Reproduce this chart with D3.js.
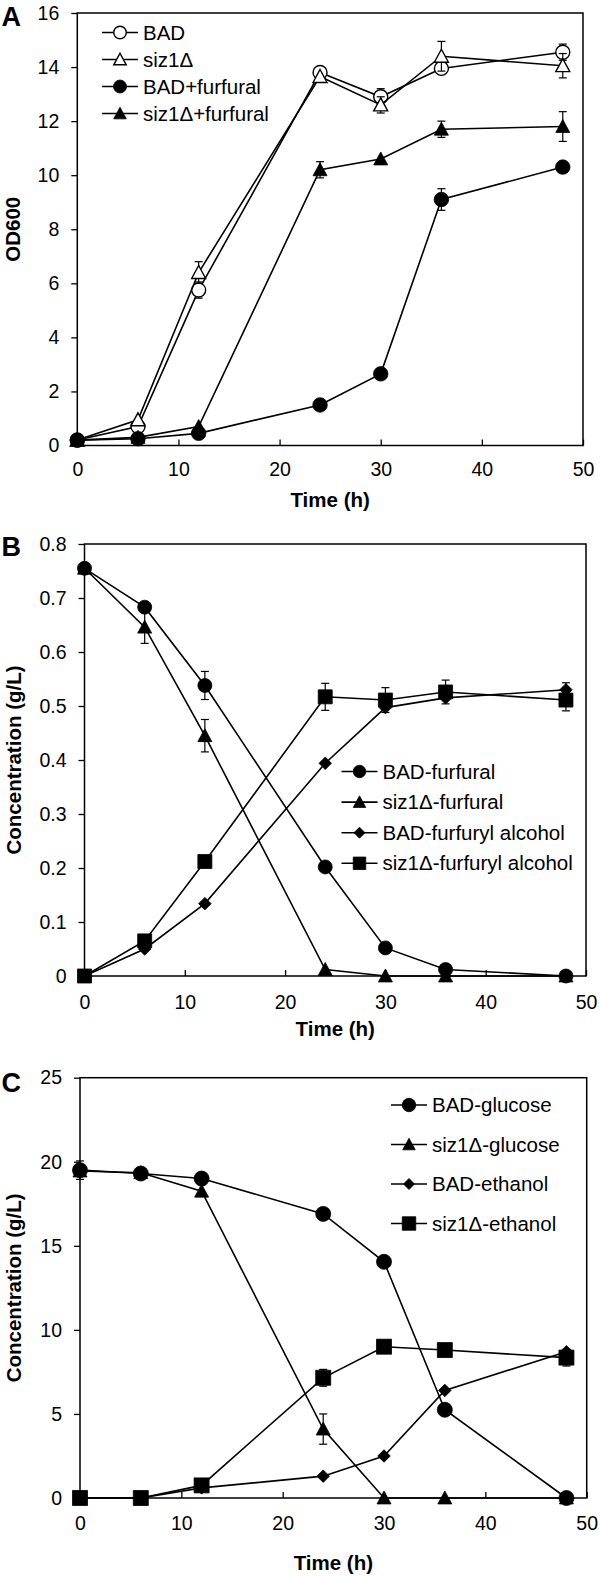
<!DOCTYPE html>
<html>
<head>
<meta charset="utf-8">
<script src="https://cdn.jsdelivr.net/npm/d3@7"></script>
<style>
  body { margin: 0; background: #fff; }
  svg text { font-family: "Liberation Sans", Arial, sans-serif; fill: #000; }
</style>
</head>
<body>
<svg id="chart" width="600" height="1576"></svg>
<script>
const time = [0, 6, 12, 24, 30, 36, 48];
const xTicks = [0, 10, 20, 30, 40, 50];

// A - growth (OD600)
const odBAD = [0.2, 0.7, 5.75, 13.8, 12.9, 13.95, 14.55];
const odBADErr = [0, 0, 0.3, 0, 0.3, 0, 0.3];
const odSiz1 = [0.2, 0.95, 6.4, 13.65, 12.6, 14.4, 14.05];
const odSiz1Err = [0, 0, 0.4, 0, 0.3, 0.55, 0.45];
const odBADFurfural = [0.2, 0.25, 0.45, 1.5, 2.65, 9.1, 10.3];
const odBADFurfuralErr = [0, 0, 0, 0, 0, 0.4, 0];
const odSiz1Furfural = [0.2, 0.3, 0.7, 10.2, 10.6, 11.7, 11.8];
const odSiz1FurfuralErr = [0, 0, 0, 0.3, 0, 0.3, 0.55];
const odTicks = [0, 2, 4, 6, 8, 10, 12, 14, 16];

// B - furfural / furfuryl alcohol (g/L)
const furBAD = [0.755, 0.683, 0.538, 0.202, 0.052, 0.012, 0];
const furBADErr = [0, 0, 0.026, 0, 0, 0, 0];
const furSiz1 = [0.755, 0.646, 0.445, 0.012, 0, 0, 0];
const furSiz1Err = [0, 0.03, 0.03, 0, 0, 0, 0];
const alcBAD = [0, 0.05, 0.134, 0.394, 0.497, 0.515, 0.53];
const alcBADErr = [0, 0, 0, 0, 0, 0, 0.013];
const alcSiz1 = [0, 0.065, 0.212, 0.517, 0.511, 0.526, 0.511];
const alcSiz1Err = [0, 0, 0, 0.025, 0.023, 0.022, 0.02];
const furTicks = [0, 0.1, 0.2, 0.3, 0.4, 0.5, 0.6, 0.7, 0.8];

// C - glucose / ethanol (g/L)
const gluBAD = [19.5, 19.3, 19.0, 16.9, 14.05, 5.25, 0];
const gluBADErr = [0.55, 0, 0, 0, 0, 0, 0];
const gluSiz1 = [19.45, 19.35, 18.25, 4.1, 0, 0, 0];
const gluSiz1Err = [0, 0, 0, 0.9, 0, 0, 0];
const ethBAD = [0, 0, 0.6, 1.3, 2.5, 6.4, 8.7];
const ethBADErr = [0, 0, 0, 0, 0, 0, 0];
const ethSiz1 = [0, 0, 0.75, 7.15, 9.0, 8.8, 8.35];
const ethSiz1Err = [0, 0, 0, 0.5, 0, 0, 0.5];
const gluTicks = [0, 5, 10, 15, 20, 25];

const svg = d3.select("#chart");

function markerPath(type, s) {
  const h = s / 2;
  const p = d3.path();
  if (type === "circle") { p.arc(0, 0, h, 0, 2 * Math.PI); }
  else if (type === "triangle") { p.moveTo(0, -h); p.lineTo(h, h * 0.85); p.lineTo(-h, h * 0.85); }
  else if (type === "square") { p.rect(-h, -h, s, s); }
  else if (type === "diamond") { p.moveTo(0, -h); p.lineTo(h, 0); p.lineTo(0, h); p.lineTo(-h, 0); }
  p.closePath();
  return p.toString();
}

function drawPanel(cfg) {
  const x = d3.scaleLinear().domain([0, 50]).range([cfg.left, cfg.right]);
  const y = d3.scaleLinear().domain([0, cfg.yMax]).range([cfg.bottom, cfg.top]);
  const g = svg.append("g");

  // y axis, ticks outward
  g.append("g")
    .attr("transform", `translate(${cfg.left},0)`)
    .call(d3.axisLeft(y)
      .tickValues(cfg.yTicks)
      .tickSize(6)
      .tickSizeOuter(0)
      .tickPadding(12)
      .tickFormat(cfg.yFormat))
    .call(a => a.select(".domain").remove())
    .call(a => a.selectAll("line").attr("stroke", "#000").attr("stroke-width", 1.3))
    .call(a => a.selectAll("text").attr("font-size", 19.5).attr("font-family", null));

  // x axis, ticks inward
  g.append("g")
    .attr("transform", `translate(0,${cfg.bottom})`)
    .call(d3.axisBottom(x)
      .tickValues(xTicks)
      .tickSizeInner(-6)
      .tickSizeOuter(0)
      .tickPadding(cfg.xPad))
    .call(a => a.select(".domain").remove())
    .call(a => a.selectAll("line").attr("stroke", "#000").attr("stroke-width", 1.3))
    .call(a => a.selectAll("text").attr("font-size", 19.5).attr("font-family", null));

  // plot box
  g.append("rect")
    .attr("x", cfg.left).attr("y", cfg.top)
    .attr("width", cfg.right - cfg.left).attr("height", cfg.bottom - cfg.top)
    .attr("fill", "none").attr("stroke", "#000").attr("stroke-width", 1.5);

  const line = d3.line().x((d, i) => x(time[i])).y(d => y(d));

  cfg.series.forEach(s => {
    const pts = s.values.map((v, i) => ({ t: time[i], v: v, e: s.err[i] }));
    const eb = pts.filter(d => d.e > 0);

    // error bars
    const bars = g.append("g").attr("stroke", "#000").attr("stroke-width", 1.2);
    bars.selectAll("line.v").data(eb).enter().append("line")
      .attr("x1", d => x(d.t)).attr("x2", d => x(d.t))
      .attr("y1", d => y(d.v - d.e)).attr("y2", d => y(d.v + d.e));
    bars.selectAll("line.top").data(eb).enter().append("line")
      .attr("x1", d => x(d.t) - 4).attr("x2", d => x(d.t) + 4)
      .attr("y1", d => y(d.v + d.e)).attr("y2", d => y(d.v + d.e));
    bars.selectAll("line.bot").data(eb).enter().append("line")
      .attr("x1", d => x(d.t) - 4).attr("x2", d => x(d.t) + 4)
      .attr("y1", d => y(d.v - d.e)).attr("y2", d => y(d.v - d.e));

    g.append("path")
      .datum(s.values)
      .attr("fill", "none")
      .attr("stroke", "#000")
      .attr("stroke-width", 1.6)
      .attr("d", line);

    g.selectAll(null)
      .data(pts)
      .enter()
      .append("path")
      .attr("transform", d => `translate(${x(d.t)},${y(d.v)})`)
      .attr("d", markerPath(s.marker, s.size))
      .attr("fill", s.open ? "#fff" : "#000")
      .attr("stroke", "#000")
      .attr("stroke-width", s.open ? 1.4 : 0.8);
  });

  // legend
  const lg = g.append("g");
  cfg.series.forEach((s, i) => {
    const ly = cfg.legend.y + i * cfg.legend.step;
    lg.append("line")
      .attr("x1", cfg.legend.x).attr("x2", cfg.legend.x + 36)
      .attr("y1", ly).attr("y2", ly)
      .attr("stroke", "#000").attr("stroke-width", 1.6);
    lg.append("path")
      .attr("transform", `translate(${cfg.legend.x + 18},${ly})`)
      .attr("d", markerPath(s.marker, s.size - 1.5))
      .attr("fill", s.open ? "#fff" : "#000")
      .attr("stroke", "#000")
      .attr("stroke-width", s.open ? 1.4 : 0.8);
    lg.append("text")
      .attr("x", cfg.legend.x + 41)
      .attr("y", ly)
      .attr("dy", "0.35em")
      .attr("font-size", 20.5)
      .text(s.name);
  });

  // titles
  g.append("text")
    .attr("x", (cfg.left + cfg.right) / 2)
    .attr("y", cfg.xTitleY)
    .attr("dy", "0.35em")
    .attr("text-anchor", "middle")
    .attr("font-size", 20.5)
    .attr("font-weight", "bold")
    .text("Time (h)");

  g.append("text")
    .attr("transform", `translate(${cfg.yTitleX},${(cfg.top + cfg.bottom) / 2}) rotate(-90)`)
    .attr("dy", "0.35em")
    .attr("text-anchor", "middle")
    .attr("font-size", 20.5)
    .attr("font-weight", "bold")
    .text(cfg.yTitle);

  g.append("text")
    .attr("x", 1.5)
    .attr("y", cfg.labelY)
    .attr("font-size", 27)
    .attr("font-weight", "bold")
    .text(cfg.label);
}

drawPanel({
  label: "A", labelY: 26,
  left: 77.3, right: 583, top: 13, bottom: 445.5,
  yMax: 16, yTicks: odTicks, yFormat: d3.format("d"),
  yTitle: "OD600", yTitleX: 13, xTitleY: 500, xPad: 17,
  legend: { x: 102, y: 32.5, step: 27 },
  series: [
    { name: "BAD", values: odBAD, err: odBADErr, marker: "circle", size: 14, open: true },
    { name: "siz1\u0394", values: odSiz1, err: odSiz1Err, marker: "triangle", size: 14, open: true },
    { name: "BAD+furfural", values: odBADFurfural, err: odBADFurfuralErr, marker: "circle", size: 14.5, open: false },
    { name: "siz1\u0394+furfural", values: odSiz1Furfural, err: odSiz1FurfuralErr, marker: "triangle", size: 14, open: false }
  ]
});

drawPanel({
  label: "B", labelY: 556,
  left: 84.5, right: 586, top: 544, bottom: 976,
  yMax: 0.8, yTicks: furTicks, yFormat: d => d === 0 ? "0" : d3.format(".1f")(d),
  yTitle: "Concentration (g/L)", yTitleX: 14, xTitleY: 1029, xPad: 19,
  legend: { x: 341.5, y: 771.5, step: 30.6 },
  series: [
    { name: "BAD-furfural", values: furBAD, err: furBADErr, marker: "circle", size: 14 },
    { name: "siz1\u0394-furfural", values: furSiz1, err: furSiz1Err, marker: "triangle", size: 14 },
    { name: "BAD-furfuryl alcohol", values: alcBAD, err: alcBADErr, marker: "diamond", size: 12.5 },
    { name: "siz1\u0394-furfuryl alcohol", values: alcSiz1, err: alcSiz1Err, marker: "square", size: 14 }
  ]
});

drawPanel({
  label: "C", labelY: 1092,
  left: 80, right: 586.7, top: 1077.7, bottom: 1498,
  yMax: 25, yTicks: gluTicks, yFormat: d3.format("d"),
  yTitle: "Concentration (g/L)", yTitleX: 14, xTitleY: 1563, xPad: 18,
  legend: { x: 391, y: 1105, step: 39.5 },
  series: [
    { name: "BAD-glucose", values: gluBAD, err: gluBADErr, marker: "circle", size: 15 },
    { name: "siz1\u0394-glucose", values: gluSiz1, err: gluSiz1Err, marker: "triangle", size: 14 },
    { name: "BAD-ethanol", values: ethBAD, err: ethBADErr, marker: "diamond", size: 12.5 },
    { name: "siz1\u0394-ethanol", values: ethSiz1, err: ethSiz1Err, marker: "square", size: 15 }
  ]
});
</script>
</body>
</html>
